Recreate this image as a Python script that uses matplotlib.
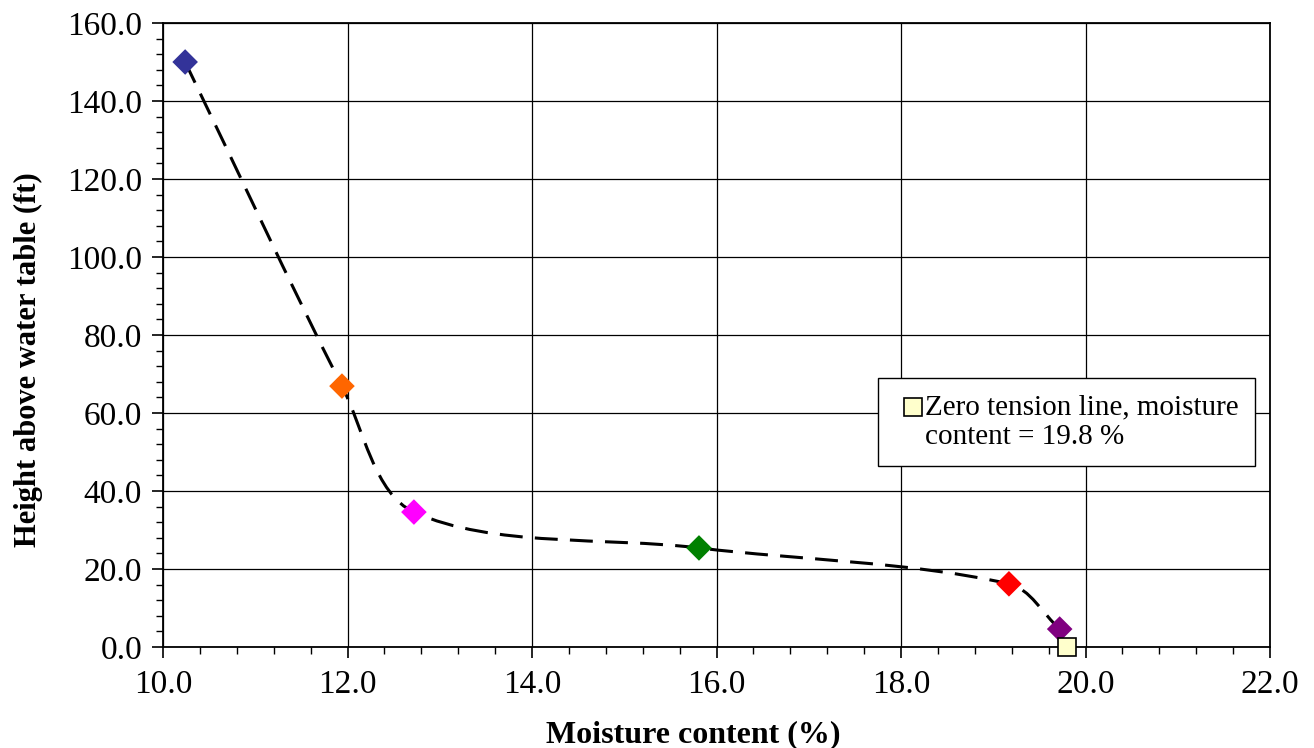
import matplotlib
matplotlib.use("Agg")
import matplotlib.pyplot as plt
import numpy as np
from matplotlib.path import Path
from matplotlib.patches import PathPatch
from matplotlib.legend_handler import HandlerLine2D
from matplotlib.ticker import MultipleLocator, FormatStrFormatter

# moisture profile points (Excel style smoothed scatter)
moisture = [10.24, 11.94, 12.72, 15.81, 19.17, 19.72]
height = [150.0, 66.9, 34.6, 25.4, 16.2, 4.6]
point_colors = ["#333399", "#FF6600", "#FF00FF", "#008000", "#FF0000", "#800080"]

# zero tension line point
zero_moisture = [19.8]
zero_height = [0.0]
zero_label = "Zero tension line, moisture\ncontent = 19.8 %"

plt.rcParams["font.family"] = ["Liberation Serif", "DejaVu Serif"]


def smooth_path(ax, xs, ys, t=0.33):
    # bezier smoothing done in screen space, control arms scaled by segment length
    pts = ax.transData.transform(np.column_stack([xs, ys]))
    n = len(pts)
    verts = [pts[0]]
    codes = [Path.MOVETO]
    out_ctrl = []
    in_ctrl = []
    for i in range(n):
        prev_p = pts[i - 1] if i > 0 else pts[i]
        next_p = pts[i + 1] if i < n - 1 else pts[i]
        d = next_p - prev_p
        l_in = np.hypot(*(pts[i] - prev_p))
        l_out = np.hypot(*(next_p - pts[i]))
        tot = l_in + l_out
        out_ctrl.append(pts[i] + d * t * l_out / tot)
        in_ctrl.append(pts[i] - d * t * l_in / tot)
    for i in range(n - 1):
        verts += [out_ctrl[i], in_ctrl[i + 1], pts[i + 1]]
        codes += [Path.CURVE4] * 3
    verts = ax.transData.inverted().transform(np.array(verts))
    return Path(verts, codes)


class RaisedHandler(HandlerLine2D):
    # put the legend key next to the first text line, a bit to the right
    def create_artists(self, legend, orig_handle, xdescent, ydescent,
                       width, height, fontsize, trans):
        arts = super().create_artists(legend, orig_handle, xdescent, ydescent,
                                      width, height, fontsize, trans)
        for a in arts:
            a.set_xdata(np.asarray(a.get_xdata()) + fontsize * 0.15)
            a.set_ydata(np.asarray(a.get_ydata()) + fontsize * 0.5)
        return arts


fig = plt.figure(figsize=(13.14, 7.48), dpi=100)
ax = fig.add_axes([163 / 1314, 101 / 748, 1107 / 1314, 624 / 748])
ax.set_xlim(10, 22)
ax.set_ylim(0, 160)

curve = PathPatch(smooth_path(ax, moisture, height), facecolor="none", edgecolor="black",
                  linewidth=2.2, linestyle=(0, (7.5, 4)), zorder=3)
ax.add_patch(curve)

ax.scatter(moisture, height, marker="D", s=170, c=point_colors, zorder=4, linewidths=0)
zero, = ax.plot(zero_moisture, zero_height, linestyle="none", marker="s", markersize=13,
                markerfacecolor="#FFFFCC", markeredgecolor="black", markeredgewidth=1.2,
                zorder=5, clip_on=False, label=zero_label)

ax.xaxis.set_major_locator(MultipleLocator(2))
ax.xaxis.set_minor_locator(MultipleLocator(0.4))
ax.yaxis.set_major_locator(MultipleLocator(20))
ax.yaxis.set_minor_locator(MultipleLocator(4))
ax.xaxis.set_major_formatter(FormatStrFormatter("%.1f"))
ax.yaxis.set_major_formatter(FormatStrFormatter("%.1f"))
ax.grid(True, which="major", color="black", linewidth=0.9)
ax.set_axisbelow(True)
ax.tick_params(which="major", direction="out", length=8, width=1.2, labelsize=24)
ax.tick_params(axis="x", which="major", pad=8)
ax.tick_params(axis="y", which="major", pad=7)
ax.tick_params(which="minor", direction="out", length=5, width=1.0)
for s in ax.spines.values():
    s.set_linewidth(1.3)

ax.set_xlabel("Moisture content (%)", fontsize=23, fontweight="bold", labelpad=15)
ax.set_ylabel("Height above water table (ft)", fontsize=22, fontweight="bold", labelpad=17)
# Excel centres the titles on the chart area, not on the plot
ax.xaxis.label.set_x(0.479)
ax.yaxis.label.set_y(0.46)

leg = ax.legend(handles=[zero], loc="upper left", bbox_to_anchor=(878 / 1314, 1 - 378 / 748),
                bbox_transform=fig.transFigure, borderaxespad=0, fontsize=21, frameon=True,
                fancybox=False, framealpha=1, edgecolor="black", handlelength=1.03,
                handletextpad=0.03, borderpad=0.55, markerscale=1.0,
                handler_map={zero: RaisedHandler()})
leg.get_frame().set_linewidth(1.0)
for txt in leg.get_texts():
    txt.set_linespacing(1.2)

fig.savefig("out.png", dpi=100)
